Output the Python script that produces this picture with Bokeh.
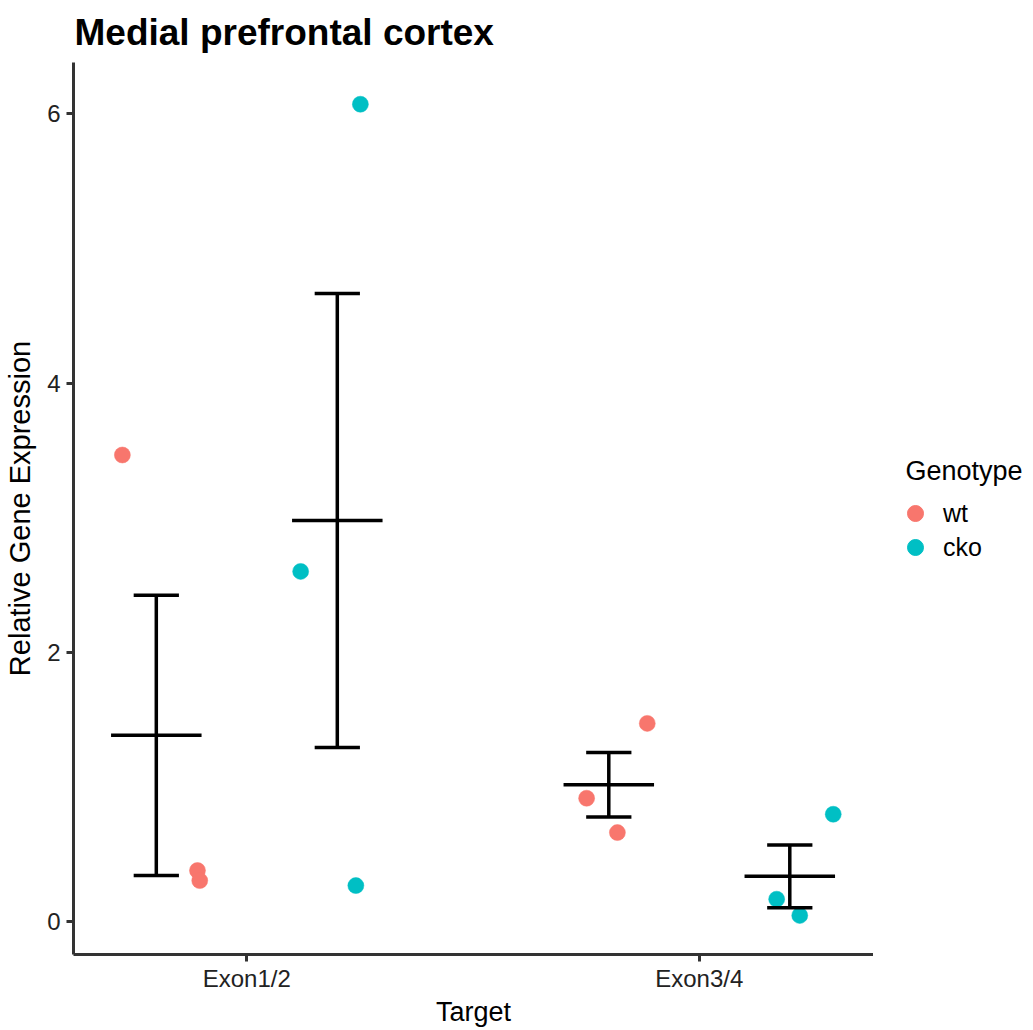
import numpy as np
from bokeh.plotting import figure
from bokeh.layouts import row
from bokeh.models import ColumnDataSource, FixedTicker, Label, Legend, LegendItem, Range1d
from bokeh.embed import file_html
from bokeh.resources import INLINE

# Categories and groups
targets = ["Exon1/2", "Exon3/4"]
genotypes = ["wt", "cko"]
genotype_colors = ["#F8766D", "#00BFC4"]

# Relative gene expression per animal, with each point's horizontal jitter
wt_exon12 = [3.466, 0.379, 0.304]
wt_exon12_jitter = [-0.075, 0.091, 0.096]
cko_exon12 = [6.072, 2.601, 0.267]
cko_exon12_jitter = [0.051, -0.081, 0.041]
wt_exon34 = [1.472, 0.916, 0.661]
wt_exon34_jitter = [0.085, -0.049, 0.019]
cko_exon34 = [0.797, 0.166, 0.045]
cko_exon34_jitter = [0.096, -0.029, 0.022]

samples = {
    ("Exon1/2", "wt"): (wt_exon12, wt_exon12_jitter),
    ("Exon1/2", "cko"): (cko_exon12, cko_exon12_jitter),
    ("Exon3/4", "wt"): (wt_exon34, wt_exon34_jitter),
    ("Exon3/4", "cko"): (cko_exon34, cko_exon34_jitter),
}

DODGE = 0.2      # offset of each genotype from the target position
CAP_HALF = 0.05  # half width of the error bar caps
MEAN_HALF = 0.1  # half width of the mean line
POINT_SIZE = 16
FONT = "Liberation Sans"

p = figure(
    frame_width=800, frame_height=892,
    x_range=Range1d(0.617, 2.385), y_range=Range1d(-0.245, 6.382),
    output_backend="svg", toolbar_location=None,
    min_border_left=73, min_border_right=0, min_border_top=62, min_border_bottom=76,
)
p.background_fill_color = "white"
p.border_fill_color = "white"
p.outline_line_color = None
p.xgrid.visible = False
p.ygrid.visible = False

p.title.text = "Medial prefrontal cortex"
p.title.text_font = FONT
p.title.text_font_size = "37px"
p.title.text_font_style = "bold"
p.title.text_color = "black"
p.title.align = "left"
p.title.offset = 1
p.title.standoff = 19

# Summary statistics: mean +/- standard error per target and genotype
seg = dict(x0=[], y0=[], x1=[], y1=[])
point_sources = {g: dict(x=[], y=[]) for g in genotypes}
for ti, target in enumerate(targets):
    for gi, geno in enumerate(genotypes):
        vals, jit = samples[(target, geno)]
        vals = np.asarray(vals)
        centre = ti + 1 + (-DODGE if gi == 0 else DODGE)
        mean = vals.mean()
        se = vals.std(ddof=1) / np.sqrt(len(vals))
        lo, hi = mean - se, mean + se
        # vertical bar, caps, and mean line
        for x0, y0, x1, y1 in [
            (centre, lo, centre, hi),
            (centre - CAP_HALF, hi, centre + CAP_HALF, hi),
            (centre - CAP_HALF, lo, centre + CAP_HALF, lo),
            (centre - MEAN_HALF, mean, centre + MEAN_HALF, mean),
        ]:
            seg["x0"].append(x0); seg["y0"].append(y0)
            seg["x1"].append(x1); seg["y1"].append(y1)
        point_sources[geno]["x"].extend(centre + np.asarray(jit))
        point_sources[geno]["y"].extend(vals)

for geno, col in zip(genotypes, genotype_colors):
    p.scatter("x", "y", source=ColumnDataSource(point_sources[geno]),
              size=POINT_SIZE, fill_color=col, line_color=col, line_width=0.5)

p.segment("x0", "y0", "x1", "y1", source=ColumnDataSource(seg),
          line_color="black", line_width=3.5)

# Axes
for ax in (p.xaxis[0], p.yaxis[0]):
    ax.axis_line_color = "#333333"
    ax.axis_line_width = 3
    ax.major_tick_line_color = "#333333"
    ax.major_tick_line_width = 3
    ax.major_tick_out = 7
    ax.major_tick_in = 0
    ax.minor_tick_line_color = None
    ax.major_label_text_font = FONT
    ax.major_label_text_font_size = "24px"
    ax.major_label_text_color = "#222222"
    ax.axis_label_text_font = FONT
    ax.axis_label_text_font_style = "normal"
    ax.axis_label_text_color = "black"

p.xaxis.ticker = FixedTicker(ticks=[1, 2])
p.xaxis.major_label_overrides = {1: targets[0], 2: targets[1]}
p.xaxis.axis_label = "Target"
p.xaxis.axis_label_text_font_size = "27px"
p.xaxis.major_label_standoff = 3
p.xaxis.axis_label_standoff = 2

p.yaxis.ticker = FixedTicker(ticks=[0, 2, 4, 6])
p.yaxis.axis_label = "Relative Gene Expression"
p.yaxis.axis_label_text_font_size = "29px"
p.yaxis.major_label_standoff = 6
p.yaxis.axis_label_standoff = 8

# Legend panel to the right of the plot; its frame lines up with the plot frame
lp = figure(width=160, height=1030, output_backend="svg", toolbar_location=None,
            x_range=Range1d(0, 1), y_range=Range1d(0, 1),
            min_border_left=0, min_border_right=0, min_border_top=62, min_border_bottom=76)
lp.axis.visible = False
lp.grid.visible = False
lp.outline_line_color = None
lp.background_fill_color = "white"
lp.border_fill_color = "white"

# one single-item legend per genotype, stacked under the title
legend_offsets = [421, 387]
for geno, col, off in zip(genotypes, genotype_colors, legend_offsets):
    # key glyph only; the single point lies outside the visible range
    r = lp.scatter(x=[-5], y=[-5], size=POINT_SIZE, fill_color=col, line_color=col)
    lg = Legend(items=[LegendItem(label=geno, renderers=[r])], location=(22, off))
    lg.label_text_font = FONT
    lg.label_text_font_size = "25px"
    lg.label_text_color = "black"
    lg.border_line_color = None
    lg.background_fill_color = None
    lg.glyph_width = 40
    lg.glyph_height = 40
    lg.label_standoff = 8
    lg.padding = 0
    lg.margin = 0
    lp.add_layout(lg, "center")

lp.add_layout(Label(x=0.2, y=0.5415, text="Genotype", text_font=FONT,
                    text_font_size="27px", text_color="black",
                    text_baseline="alphabetic", text_align="left"))

layout = row(p, lp)
open("out.html", "w").write(file_html(layout, INLINE))
